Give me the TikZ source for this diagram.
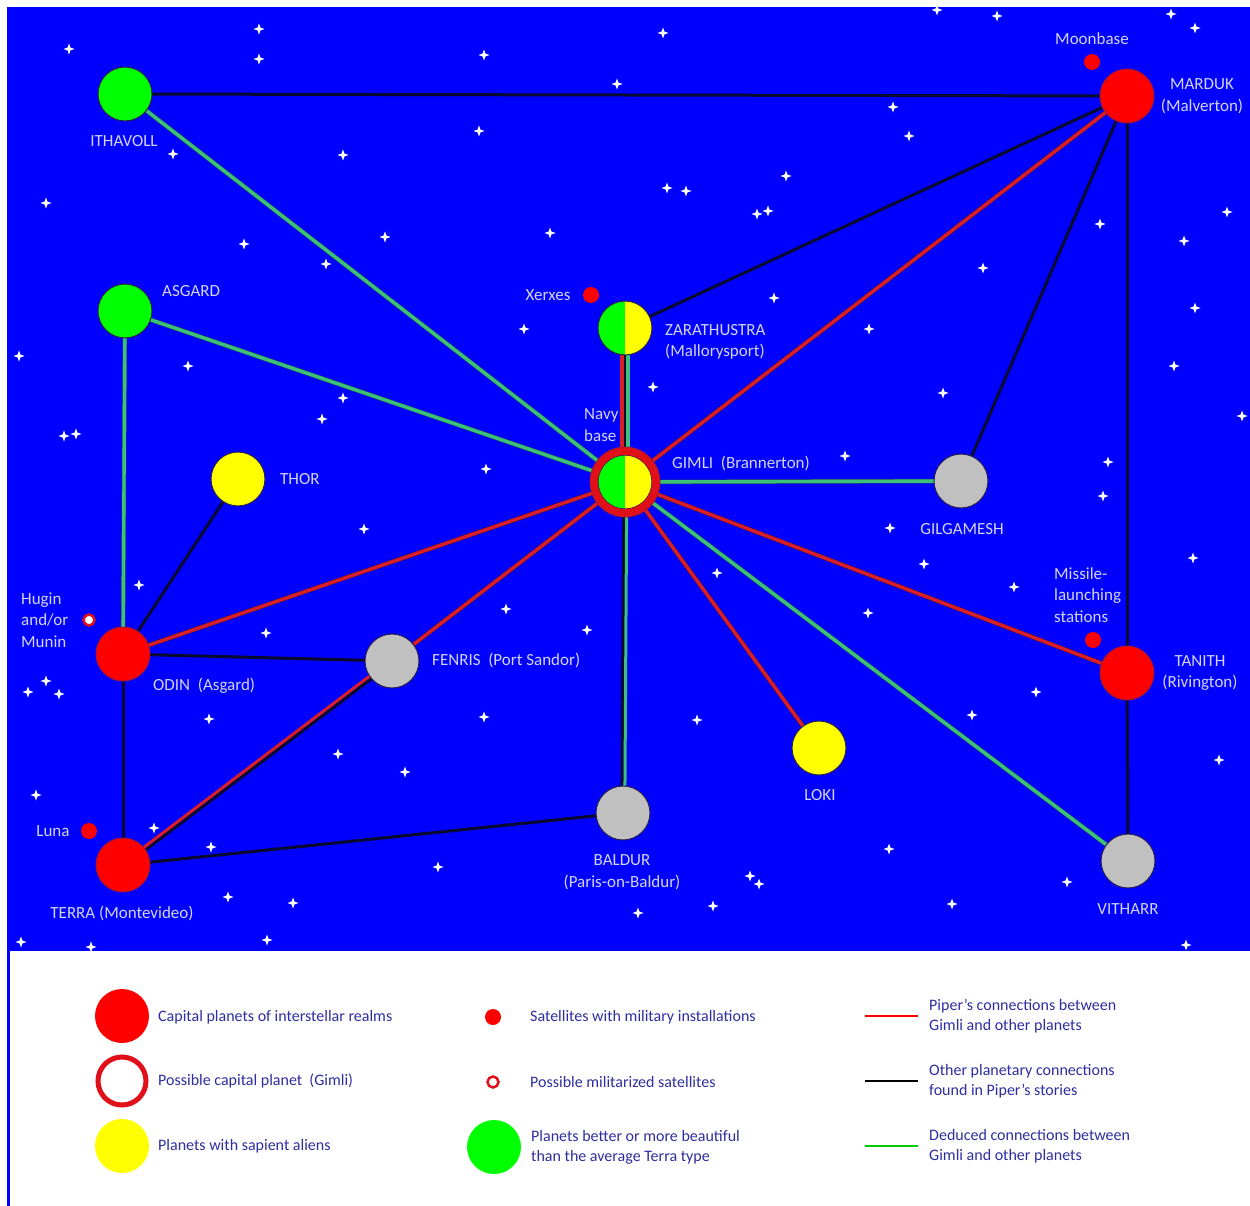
\documentclass[tikz,border=0pt]{standalone}
\usepackage{fontspec}
\setmainfont{Carlito}
\pgfdeclarelayer{bg}
\pgfsetlayers{bg,main}
\definecolor{sky}{HTML}{0000FE}
\definecolor{lbl}{HTML}{D4D4FA}
\definecolor{legtxt}{HTML}{2E2EA0}
\definecolor{pred}{HTML}{FF0000}
\definecolor{pgreen}{HTML}{00FF00}
\definecolor{pyellow}{HTML}{FFFF00}
\definecolor{pgray}{HTML}{C0C0C0}
\definecolor{rim}{HTML}{2A2050}
\definecolor{redrim}{HTML}{A01838}
\definecolor{lred}{HTML}{D81E2A}
\definecolor{lgreen}{HTML}{3CC07A}
\definecolor{lblack}{HTML}{0A0A30}
\definecolor{ringred}{HTML}{E0101A}
\tikzset{
  spark/.pic={\fill[white] (0,5.5)--(1.4,1.4)--(5.5,0)--(1.4,-1.4)--(0,-5.5)--(-1.4,-1.4)--(-5.5,0)--(-1.4,1.4)--cycle;},
  planet/.style={circle, minimum size=54pt, inner sep=0pt, draw=rim, line width=1pt},
  capital/.style={planet, fill=pred, draw=redrim},
  lush/.style={planet, fill=pgreen},
  alien/.style={planet, fill=pyellow},
  plain/.style={planet, fill=pgray},
  halfgy/.style={planet, path picture={\fill[pgreen] (path picture bounding box.south west) rectangle (path picture bounding box.north);
     \fill[pyellow] (path picture bounding box.south) rectangle (path picture bounding box.north east);}},
  sat/.style={circle, fill=pred, minimum size=16pt, inner sep=0pt},
  hsat/.style={circle, fill=white, draw=ringred, line width=2.5pt, minimum size=11pt, inner sep=0pt},
  maplbl/.style={text=lbl, font=\fontsize{17}{21.5}\selectfont, inner sep=0pt},
  leglbl/.style={text=legtxt, font=\fontsize{16}{20}\selectfont, inner sep=0pt, anchor=west, align=left},
  piper/.style={draw=lred, line width=3.4pt, preaction={draw=lblack!70!lred, line width=4.4pt}},
  other/.style={draw=lblack, line width=3pt},
  deduced/.style={draw=lgreen, line width=3.4pt, preaction={draw=lblack!60!lgreen, line width=4.4pt}},
}
\begin{document}
\begin{tikzpicture}[x=1pt,y=-1pt]
\useasboundingbox (0,0) rectangle (1250,1206);
% planets
\node[lush] (ithavoll) at (125,94) {};
\node[capital] (marduk) at (1127,96) {};
\node[lush] (asgard) at (125,311) {};
\node[halfgy] (zara) at (625,328) {};
\node[halfgy] (gimli) at (625,482) {};
\draw[ringred, line width=8pt] (gimli.center) circle (31pt);
\draw[redrim, line width=0.8pt] (gimli.center) circle (35pt);
\node[alien] (thor) at (238,479) {};
\node[plain] (gilgamesh) at (961,481) {};
\node[capital] (odin) at (123,654) {};
\node[plain] (fenris) at (392,661) {};
\node[capital] (tanith) at (1127,673) {};
\node[alien] (loki) at (819,748) {};
\node[plain] (baldur) at (623,813) {};
\node[capital] (terra) at (123,865) {};
\node[plain] (vitharr) at (1128,861) {};
% satellites
\node[sat] (moonbase) at (1092,62) {};
\node[sat] (xerxes) at (591,295) {};
\node[sat] (missile) at (1093,640) {};
\node[sat] (luna) at (89,831) {};
\node[hsat] (hugin) at (89,620) {};
% labels
\node[maplbl] (lith) at (124,141) {ITHAVOLL};
\node[maplbl, anchor=west] (lasg) at (162,291) {ASGARD};
\node[maplbl, anchor=west] (lthor) at (280,479) {THOR};
\node[maplbl, anchor=west, align=left] (lzara) at (665,342) {ZARATHUSTRA\\(Mallorysport)};
\node[maplbl] (lxer) at (548,295) {Xerxes};
\node[maplbl, anchor=west, align=left] (lnavy) at (584,425) {Navy\\base};
\node[maplbl, anchor=west] (lgimli) at (672,463) {GIMLI\ \ (Brannerton)};
\node[maplbl] (lgil) at (962,529) {GILGAMESH};
\node[maplbl, align=center] (lmar) at (1202,96) {MARDUK\\(Malverton)};
\node[maplbl] (lmoon) at (1092,39) {Moonbase};
\node[maplbl, anchor=west, align=left] (lmis) at (1054,595) {Missile-\\launching\\stations};
\node[maplbl, align=center] (ltan) at (1200,673) {TANITH\\(Rivington)};
\node[maplbl, anchor=west, align=left] (lhug) at (21,620) {Hugin\\and/or\\Munin};
\node[maplbl, anchor=west] (lodin) at (153,686) {ODIN\ \ (Asgard)};
\node[maplbl, anchor=west] (lfen) at (432,660) {FENRIS\ \ (Port Sandor)};
\node[maplbl] (lloki) at (820,795) {LOKI};
\node[maplbl, align=center] (lbal) at (622,872) {BALDUR\\(Paris-on-Baldur)};
\node[maplbl] (lluna) at (53,831) {Luna};
\node[maplbl] (lter) at (122,913) {TERRA (Montevideo)};
\node[maplbl] (lvit) at (1128,909) {VITHARR};
% background, stars, edges
\begin{pgfonlayer}{bg}
\fill[sky] (7,7) rectangle (1250,951);
\foreach \p in {(69,49),(259,29),(259,59),(484,55),(663,33),(617,84),(893,107),(909,136),(479,131),(343,155),(173,154),(46,203),(786,176),(667,188),(686,191),(757,214),(768,211),(550,233),(385,237),(244,244),(326,264),(983,268),(1100,224),(1184,241),(1227,212),(1195,308),(1174,366),(774,298),(869,329),(524,329),(19,356),(188,366),(653,387),(943,393),(343,398),(322,419),(64,436),(76,434),(1108,462),(1103,496),(845,456),(486,469),(364,529),(890,528),(924,564),(1193,558),(1014,587),(139,585),(506,609),(587,630),(717,573),(868,613),(266,633),(46,681),(28,692),(59,694),(1036,692),(209,719),(484,717),(697,720),(972,715),(338,754),(405,772),(1219,760),(36,795),(154,828),(211,847),(438,867),(889,849),(750,876),(759,884),(1067,882),(228,897),(293,903),(638,913),(713,906),(952,904),(267,940),(21,942),(91,947),(1186,945),(937,10),(997,16),(1171,14),(1195,28),(1242,416)}
  \pic at \p {spark};
% black
\draw[other] (ithavoll.center) -- (marduk.center);
\draw[other] (marduk.center) -- (zara.center);
\draw[other] (marduk.center) -- (gilgamesh.center);
\draw[other] (marduk.center) -- (tanith.center);
\draw[other] (tanith.center) -- (vitharr.center);
\draw[other] (thor.center) -- (odin.center);
\draw[other] (odin.center) -- (fenris.center);
\draw[other] (odin.center) -- (terra.center);
\draw[other] (terra.center) -- (baldur.center);
% green
\draw[deduced] (gimli.center) -- (ithavoll.center);
\draw[deduced] (gimli.center) -- (asgard.center);
\draw[deduced] (asgard.center) -- (odin.center);
\draw[deduced] (gimli.center) -- (gilgamesh.center);
\draw[deduced] (gimli.center) -- (vitharr.center);
% red
\draw[piper] (gimli.center) -- (marduk.center);
\draw[piper] (gimli.center) -- (odin.center);
\draw[piper] (gimli.center) -- (fenris.center);
\draw[piper] (gimli.center) -- (loki.center);
\draw[piper] (gimli.center) -- (tanith.center);
% doubles
\draw[lblack, line width=9pt] (zara.center) -- (gimli.center);
\draw[lred, line width=3.5pt, transform canvas={xshift=-3pt}] (zara.center) -- (gimli.center);
\draw[lgreen, line width=3.5pt, transform canvas={xshift=3pt}] (zara.center) -- (gimli.center);
\draw[lblack, line width=3pt, transform canvas={xshift=-1.2pt}] (gimli.center) -- (baldur.center);
\draw[lgreen, line width=3pt, transform canvas={xshift=1.8pt}] (gimli.center) -- (baldur.center);
\draw[lblack, line width=3pt, transform canvas={shift={(1pt,-1.3pt)}}] (fenris.center) -- (terra.center);
\draw[lred, line width=3pt, transform canvas={shift={(-0.9pt,1.2pt)}}] (fenris.center) -- (terra.center);
\end{pgfonlayer}
% legend
\fill[white] (7,952) rectangle (1250,1206);
\draw[sky, line width=2.5pt] (8.5,951) -- (8.5,1206);
\node[capital, draw=none] (kcap) at (122,1016) {};
\node[leglbl] (tcap) at (158,1017) {Capital planets of interstellar realms};
\node[circle, draw=ringred, line width=5pt, minimum size=48pt, fill=white] (kring) at (122,1081) {};
\node[leglbl] (tring) at (158,1081) {Possible capital planet\ \ (Gimli)};
\node[alien, draw=none] (kalien) at (122,1146) {};
\node[leglbl] (talien) at (158,1146) {Planets with sapient aliens};
\node[sat] (ksat) at (493,1017) {};
\node[leglbl] (tsat) at (530,1017) {Satellites with military installations};
\node[hsat, draw=ringred] (khsat) at (493,1082) {};
\node[leglbl] (thsat) at (530,1082) {Possible militarized satellites};
\node[lush, draw=none] (klush) at (494,1147) {};
\node[leglbl] (tlush) at (531,1147) {Planets better or more beautiful\\than the average Terra type};
\coordinate (r1) at (865,1016); \coordinate (r2) at (918,1016);
\draw[pred, line width=2.5pt] (r1) -- (r2);
\node[leglbl] (tred) at (929,1016) {Piper's connections between\\Gimli and other planets};
\coordinate (b1) at (865,1081); \coordinate (b2) at (918,1081);
\draw[black, line width=2.5pt] (b1) -- (b2);
\node[leglbl] (tblack) at (929,1081) {Other planetary connections\\found in Piper's stories};
\coordinate (g1) at (865,1146); \coordinate (g2) at (918,1146);
\draw[pgreen!80!black, line width=2.5pt] (g1) -- (g2);
\node[leglbl] (tgreen) at (929,1146) {Deduced connections between\\Gimli and other planets};
\end{tikzpicture}
\end{document}
